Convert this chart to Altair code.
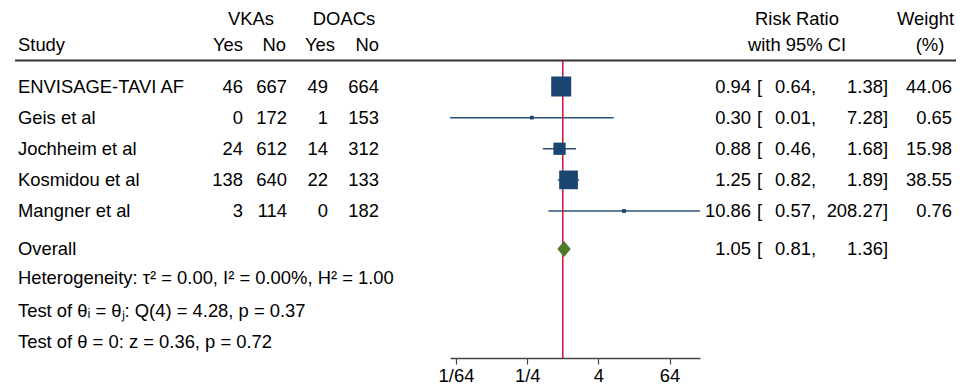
import json
import math
import altair as alt
import pandas as pd

# ---------------- data ----------------
studies = ["ENVISAGE-TAVI AF", "Geis et al", "Jochheim et al", "Kosmidou et al", "Mangner et al"]
vka_yes = [46, 0, 24, 138, 3]
vka_no = [667, 172, 612, 640, 114]
doac_yes = [49, 1, 14, 22, 0]
doac_no = [664, 153, 312, 133, 182]
rr = [0.94, 0.30, 0.88, 1.25, 10.86]
ci_low = [0.64, 0.0124, 0.46, 0.82, 0.57]
ci_high = [1.38, 7.28, 1.68, 1.89, 208.27]
weight = [44.06, 0.65, 15.98, 38.55, 0.76]
overall_label = "Overall"
overall_rr = [1.05]
overall_low = [0.81]
overall_high = [1.36]
footer_lines = [
    "Heterogeneity: τ² = 0.00, I² = 0.00%, H² = 1.00",
    "Test of θᵢ = θⱼ: Q(4) = 4.28, p = 0.37",
    "Test of θ = 0: z = 0.36, p = 0.72",
]
axis_ticks = [1 / 64, 1 / 4, 4, 64]
tick_labels = ["1/64", "1/4", "4", "64"]

# ---------------- layout constants ----------------
FONT = "Liberation Sans"
FS = 18.4
W, H = 948, 350
OVERALL_ROW = 6.22
DIAMOND_HALF = 0.26
NAVY = "#1b4571"
LINE_BLUE = "#2d5278"
RED = "#d0103a"
GREEN = "#4e7a2b"
PX_PER_LOG2 = 17.8
X_ONE = 554.8

df = pd.DataFrame({
    "study": studies, "vy": vka_yes, "vn": vka_no, "dy": doac_yes, "dn": doac_no,
    "rr": rr, "lo": ci_low, "hi": ci_high, "w": weight,
})
df["row"] = range(1, len(df) + 1)
df["est_t"] = df["rr"].map(lambda v: f"{v:.2f}")
df["br_t"] = "["
df["lo_t"] = df["lo"].map(lambda v: f"{v:.2f},")
df["hi_t"] = df["hi"].map(lambda v: f"{v:.2f}]")
df["w_t"] = df["w"].map(lambda v: f"{v:.2f}")

ov = pd.DataFrame({"study": [overall_label], "rr": overall_rr, "lo": overall_low, "hi": overall_high})
ov["row"] = OVERALL_ROW
ov["est_t"] = ov["rr"].map(lambda v: f"{v:.2f}")
ov["br_t"] = "["
ov["lo_t"] = ov["lo"].map(lambda v: f"{v:.2f},")
ov["hi_t"] = ov["hi"].map(lambda v: f"{v:.2f}]")

diamond = pd.DataFrame({
    "x": [overall_low[0], overall_rr[0], overall_high[0]],
    "y": [OVERALL_ROW, OVERALL_ROW - DIAMOND_HALF, OVERALL_ROW],
    "y2": [OVERALL_ROW, OVERALL_ROW + DIAMOND_HALF, OVERALL_ROW],
})

lo_dom, hi_dom = min(ci_low), max(ci_high)
xscale = alt.Scale(type="log", base=2, domain=[lo_dom, hi_dom],
                   range=[X_ONE + math.log2(lo_dom) * PX_PER_LOG2,
                          X_ONE + math.log2(hi_dom) * PX_PER_LOG2], nice=False)
yscale = alt.Scale(domain=[1, 5], range=[78.5, 203])

label_expr = f"{json.dumps(tick_labels)}[indexof({json.dumps(axis_ticks)}, datum.value)]"
xaxis = alt.Axis(values=axis_ticks, labelExpr=label_expr, title=None, grid=False,
                 domainColor="#444444", domainWidth=1.5, tickColor="#444444", tickSize=6,
                 tickWidth=1.2, labelFontSize=FS, labelColor="black", labelFont=FONT,
                 labelPadding=2, labelFlush=False, labelOverlap=False)

def X(field):
    return alt.X(field, type="quantitative", scale=xscale, axis=xaxis)

def Y(field="row"):
    return alt.Y(field, type="quantitative", scale=yscale, axis=None)

def col(data, field, x, align):
    return alt.Chart(data).mark_text(font=FONT, fontSize=FS, color="black", align=align,
                                     baseline="middle").encode(
        x=alt.value(x), y=Y(), text=alt.Text(f"{field}:N"))

def fixed_text(txt, x, y, align):
    return alt.Chart(pd.DataFrame({"t": [txt]})).mark_text(
        font=FONT, fontSize=FS, color="black", align=align, baseline="middle").encode(
        x=alt.value(x), y=alt.value(y), text="t:N")

# ---------------- layers ----------------
header_rule = alt.Chart(pd.DataFrame({"a": [0]})).mark_rule(color="#333333", strokeWidth=2).encode(
    x=alt.value(7), x2=alt.value(W), y=alt.value(52.5))

ci_rules = alt.Chart(df).mark_rule(color=LINE_BLUE, strokeWidth=1.5).encode(
    x=X("lo"), x2="hi", y=Y())

ref_line = alt.Chart(pd.DataFrame({"one": [1]})).mark_rule(color=RED, strokeWidth=1.5).encode(
    x=X("one"), y=alt.value(52.5), y2=alt.value(H))

squares = alt.Chart(df).mark_square(color=NAVY, opacity=1).encode(
    x=X("rr"), y=Y(),
    size=alt.Size("w:Q", scale=alt.Scale(domain=[0, max(weight)], range=[8, 400]), legend=None))

diamond_layer = alt.Chart(diamond).mark_area(color=GREEN, opacity=1, orient="vertical").encode(
    x=X("x"), y=Y("y"), y2="y2")

texts = [
    fixed_text("VKAs", 243, 11, "center"),
    fixed_text("DOACs", 336, 11, "center"),
    fixed_text("Study", 10, 36.5, "left"),
    fixed_text("Yes", 235, 36.5, "right"),
    fixed_text("No", 278, 36.5, "right"),
    fixed_text("Yes", 327, 36.5, "right"),
    fixed_text("No", 371, 36.5, "right"),
    fixed_text("Risk Ratio", 789, 11, "center"),
    fixed_text("with 95% CI", 789, 36.5, "center"),
    fixed_text("Weight", 946, 11, "right"),
    fixed_text("(%)", 922, 36.5, "center"),
    col(df, "study", 10, "left"),
    col(df, "vy", 235, "right"),
    col(df, "vn", 279, "right"),
    col(df, "dy", 320, "right"),
    col(df, "dn", 371, "right"),
    col(df, "est_t", 743, "right"),
    col(df, "br_t", 749, "left"),
    col(df, "lo_t", 808, "right"),
    col(df, "hi_t", 880, "right"),
    col(df, "w_t", 944, "right"),
    col(ov, "study", 10, "left"),
    col(ov, "est_t", 743, "right"),
    col(ov, "br_t", 749, "left"),
    col(ov, "lo_t", 808, "right"),
    col(ov, "hi_t", 880, "right"),
    fixed_text(footer_lines[0], 10, 270, "left"),
    fixed_text(footer_lines[1], 10, 303, "left"),
    fixed_text(footer_lines[2], 10, 334, "left"),
]

chart = alt.layer(header_rule, ci_rules, ref_line, squares, diamond_layer, *texts).properties(
    width=W, height=H, autosize="none",
    padding={"left": 0, "top": 0, "right": 0, "bottom": 30},
).configure_view(stroke=None)

chart.save("out.html", embed_options={"renderer": "svg", "actions": False})
